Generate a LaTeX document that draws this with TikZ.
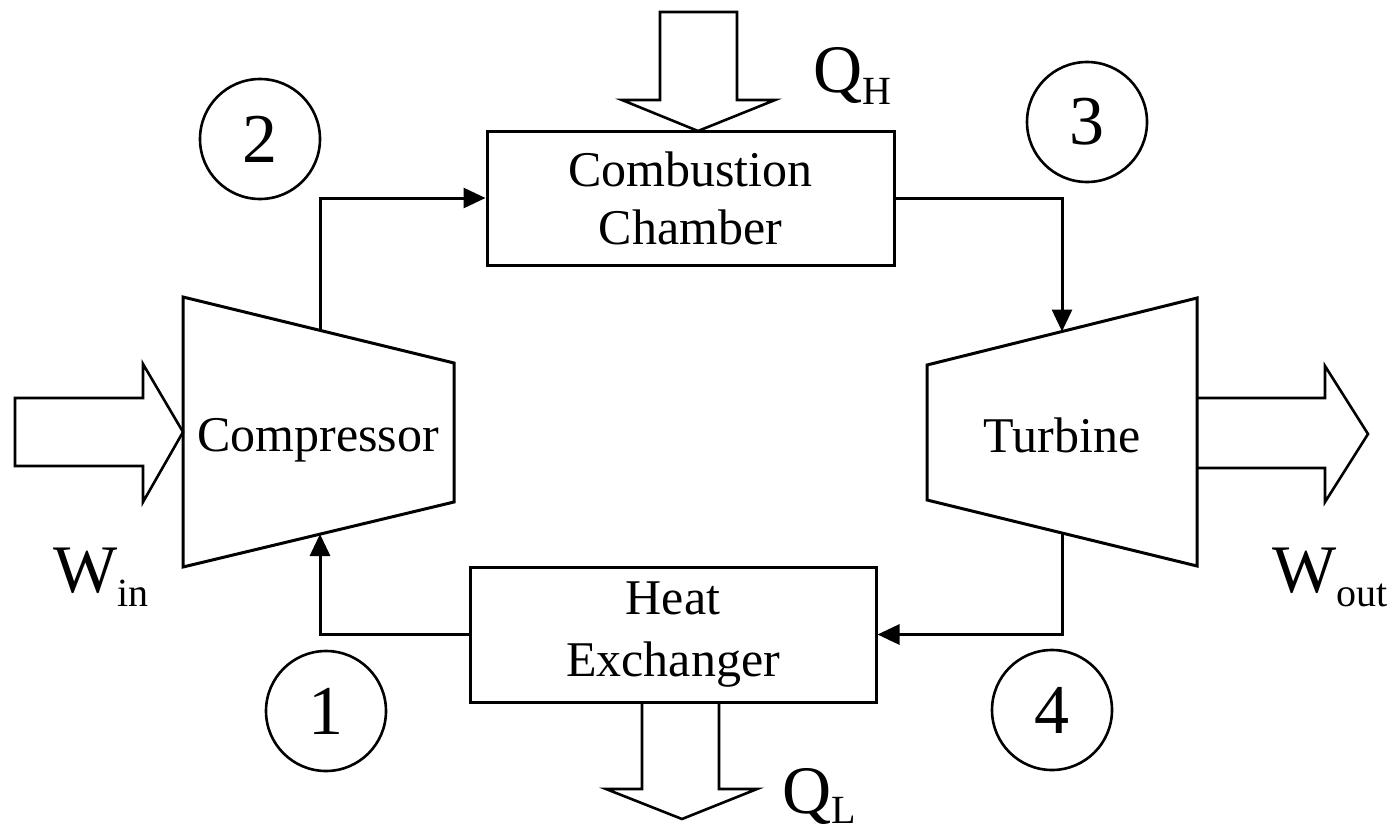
\documentclass[tikz,border=0pt]{standalone}
\usepackage{fontspec}
\setmainfont{Liberation Serif}
\usetikzlibrary{arrows.meta,calc}
\newcommand{\lbl}[3][7pt]{{\fontsize{34pt}{34pt}\selectfont #2}\raisebox{-#1}{\fontsize{20pt}{20pt}\selectfont #3}}
\begin{document}
\begin{tikzpicture}[x=0.5pt,y=-0.5pt,
  flow/.style={line width=1.5pt,-{Triangle[length=11pt,width=10pt]}},
  blockarrow/.style={line width=1.3pt,line join=miter},
  machine/.style={line width=1.5pt,line join=miter},
  boxnode/.style={draw,line width=1.5pt,rectangle,inner sep=0pt,align=center,
    font=\fontsize{25pt}{30pt}\selectfont},
  statenode/.style={draw,circle,line width=1.3pt,minimum size=60pt,inner sep=0pt,
    font=\fontsize{35pt}{35pt}\selectfont},
  textnode/.style={inner sep=0pt,anchor=base,font=\fontsize{25pt}{30pt}\selectfont},
  labelnode/.style={inner sep=0pt,anchor=base west}]
\useasboundingbox (0,0) rectangle (1396,830);

% combustion chamber and heat exchanger
\node[boxnode,minimum width=203.5pt,minimum height=67pt] (cc) at (690.5,198)
  {Combustion\\[-1pt]Chamber};
\node[boxnode,minimum width=203pt,minimum height=67.5pt] (hx) at (673,634.5)
  {Heat\\[1pt]Exchanger};

% compressor
\coordinate (ctl) at (183,297);
\coordinate (ctr) at (454,363);
\coordinate (cbr) at (454,502);
\coordinate (cbl) at (183,567);
\draw[machine] (ctl) -- (ctr) -- (cbr) -- (cbl) -- cycle;
\node[textnode] (comp) at (318,451) {Compressor};

% turbine
\coordinate (ttl) at (927,365);
\coordinate (ttr) at (1197,298);
\coordinate (tbr) at (1197,566);
\coordinate (tbl) at (927,500);
\draw[machine] (ttl) -- (ttr) -- (tbr) -- (tbl) -- cycle;
\node[textnode] (turb) at (1062,452) {Turbine};

% connector points
\coordinate (cout) at (320,330);
\coordinate (cin) at (320,534);
\coordinate (tin) at (1062,331.5);
\coordinate (tout) at (1062,533);

% flow lines
\draw[flow] (cout) |- (cc.west);
\draw[flow] (cc.east) -| (tin);
\draw[flow] (tout) |- (hx.east);
\draw[flow] (hx.west) -| (cin);

% state circles
\node[statenode] (s2) at (260,139) {2};
\node[statenode] (s3) at (1087,122) {3};
\node[statenode] (s1) at (326,711) {1};
\node[statenode] (s4) at (1052,710) {4};

% block arrows
\draw[blockarrow] (660,12) -- (737,12) -- (737,100) -- (775,100) -- (698,131)
  -- (622,100) -- (660,100) -- cycle;
\draw[blockarrow] (642,702) -- (642,789) -- (606,789) -- (682,819) -- (757,789)
  -- (719,789) -- (719,702);
\draw[blockarrow] (15,398) -- (143,398) -- (143,364) -- (183,432) -- (143,502)
  -- (143,466) -- (15,466) -- cycle;
\draw[blockarrow] (1197,398) -- (1325,398) -- (1325,366) -- (1368,434) -- (1325,502)
  -- (1325,468) -- (1197,468);

% labels
\node[labelnode] (qh) at (813,92) {\lbl[6pt]{Q}{H}};
\node[labelnode] (ql) at (782,813) {\lbl[5pt]{Q}{L}};
\node[labelnode] (win) at (53,592) {\lbl{W}{in}};
\node[labelnode] (wout) at (1272,592) {\lbl{W}{out}};
\end{tikzpicture}
\end{document}
